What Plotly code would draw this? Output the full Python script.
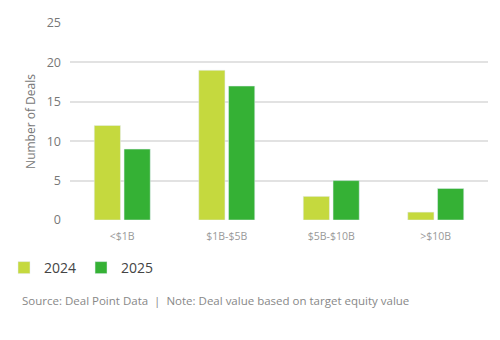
import plotly.graph_objects as go

categories = ["<$1B", "$1B-$5B", "$5B-$10B", ">$10B"]
deals_2024 = [12, 19, 3, 1]
deals_2025 = [9, 17, 5, 4]
y_ticks = [0, 5, 10, 15, 20, 25]

c2024 = "#c5d93e"
c2025 = "#35b135"

fig = go.Figure()
fig.add_trace(go.Bar(x=categories, y=deals_2024, name="2024", marker_color=c2024))
fig.add_trace(go.Bar(x=categories, y=deals_2025, name="2025", marker_color=c2025))

W, H = 500, 340
L, R, T, B = 70, 12, 23, 120
pw = W - L - R
ph = H - T - B

fig.update_layout(
    width=W, height=H,
    margin=dict(l=L, r=R, t=T, b=B, pad=0, autoexpand=False),
    paper_bgcolor="white", plot_bgcolor="white",
    font=dict(family="Open Sans, Noto Sans, sans-serif", color="#666666"),
    barmode="group", bargap=0.43, bargroupgap=0.12,
    showlegend=True,
    legend=dict(orientation="h", xref="container", x=4 / W, xanchor="left",
                yref="container", y=1 - 268 / H, yanchor="middle",
                font=dict(size=14, color="#444444"),
                itemwidth=30, tracegroupgap=0, bgcolor="rgba(0,0,0,0)"),
    xaxis=dict(showgrid=False, showline=False, ticks="", ticklabelstandoff=8,
               tickfont=dict(size=10.5, color="#999999")),
    yaxis=dict(range=[0, 25], tickvals=y_ticks, showgrid=True,
               gridcolor="#e2e2e2", gridwidth=1.5, zeroline=False,
               showline=False, ticks="", ticklabelstandoff=8,
               tickfont=dict(size=12.5, color="#777777"),
               title=dict(text="Number of Deals", standoff=8,
                          font=dict(size=12, color="#777777"))),
    annotations=[dict(text="Source: Deal Point Data  |  Note: Deal value based on target equity value",
                      xref="paper", yref="paper", x=(20 - L) / pw, xanchor="left",
                      y=(T + ph - 300) / ph, yanchor="middle", showarrow=False,
                      font=dict(size=11.5, color="#888888"))],
)

fig.write_html("out.html")
